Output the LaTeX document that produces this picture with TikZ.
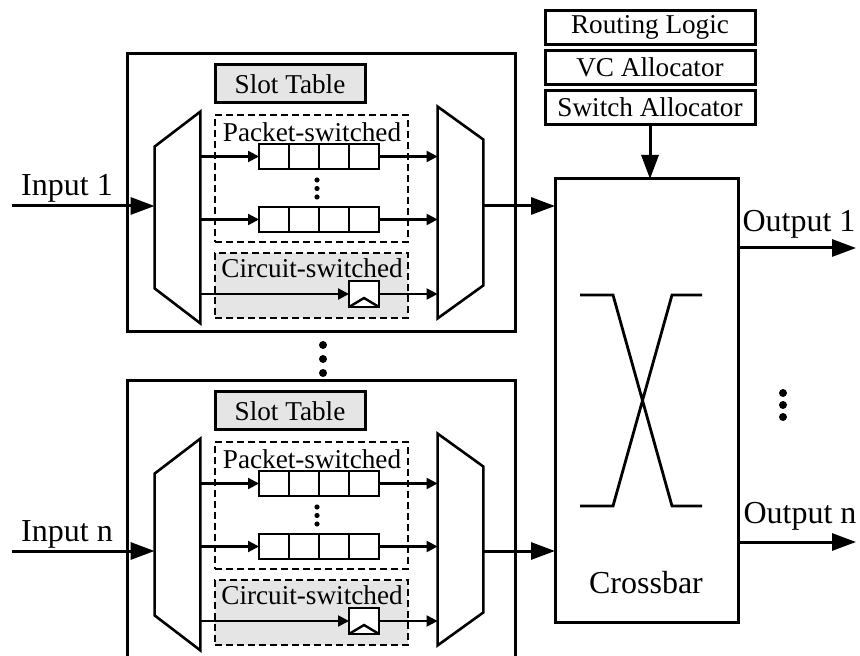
\documentclass[tikz,border=0pt]{standalone}
\usepackage{fontspec}
\setmainfont{Liberation Serif}
\usetikzlibrary{arrows.meta, positioning, calc}

\begin{document}
\begin{tikzpicture}[
  x=0.5pt, y=-0.5pt,
  txt/.style={font=\fontsize{13.6}{15}\selectfont, inner sep=0pt},
  lbl/.style={font=\fontsize{16}{18}\selectfont, inner sep=0pt, anchor=base},
  block/.style={draw, line width=1.5pt, inner sep=0pt, outer sep=0pt},
  box/.style={block, txt, minimum width=105pt, minimum height=17pt},
  slot/.style={block, txt, fill=black!10, minimum width=75pt, minimum height=19pt},
  group/.style={draw, line width=0.75pt, dash pattern=on 3.5pt off 2pt, minimum width=96.5pt, inner sep=0pt},
  cell/.style={draw, line width=1.2pt, minimum width=15pt, minimum height=12.5pt, inner sep=0pt, outer sep=0pt},
  trap/.style={line width=1.3pt, line join=miter},
  arrow/.style={-{Triangle[length=5.5pt, width=5.5pt]}, line width=1.1pt},
  bigarrow/.style={-{Triangle[length=12pt, width=8.5pt]}, line width=1.5pt},
  node distance=3pt
]
  \useasboundingbox (0,0) rectangle (860,656);
  \clip (0,0) rectangle (860,656);

  \node[box] (rl) at (650,27.5) {Routing Logic};
  \node[box, below=of rl] (vc) {VC Allocator};
  \node[box, below=of vc] (sa) {Switch Allocator};

  \node[block, minimum width=91.5pt, minimum height=221.5pt] (xbar) at (646.5,400.5) {};
  \node[lbl] (xlbl) at (646,593) {Crossbar};
  \draw[line width=1.4pt] (580,295) -- (613,295) -- (672,506) -- (702,506)
                          (580,506) -- (613,506) -- (672,295) -- (702,295);
  \draw[bigarrow] (sa) -- (sa |- xbar.north);

  \coordinate (o1) at (856,248);
  \coordinate (on) at (856,542);
  \draw[bigarrow] (o1 -| xbar.east) -- (o1);
  \draw[bigarrow] (on -| xbar.east) -- (on);
  \node[lbl] (lo1) at (799,232) {Output 1};
  \node[lbl] (lon) at (800,523) {Output n};
  \foreach \y in {393,405,417} \fill (783,\y) circle[radius=2pt];

  \foreach \y in {345,359,373} \fill (323,\y) circle[radius=2pt];

  \foreach \n/\dy/\ay in {1/0/206, n/327/224} {
    \begin{scope}[shift={(0,\dy)}]
      \node[block, minimum width=194pt, minimum height=139pt] (blk\n) at (321,193) {};
      \node[slot] (st\n) at (290,84) {Slot Table};
      \node[group, minimum height=63.5pt] (ps\n) at (311.5,178.5) {};
      \node[txt] (psl\n) at (312,132) {Packet-switched};
      \node[group, fill=black!10, minimum height=32.5pt] (cs\n) at (311.5,285.5) {};
      \node[txt] (csl\n) at (312,268) {Circuit-switched};

      \node[minimum width=22.5pt, minimum height=105.5pt] (dmx\n) at (177.5,217.5) {};
      \node[minimum width=22.5pt, minimum height=105.5pt] (mux\n) at (460.5,212.5) {};
      \draw[trap] ($(dmx\n.north west)+(0,35)$) -- (dmx\n.north east) -- (dmx\n.south east)
                  -- ($(dmx\n.south west)+(0,-35)$) -- cycle;
      \draw[trap] (mux\n.north west) -- ($(mux\n.north east)+(0,33)$)
                  -- ($(mux\n.south east)+(0,-33)$) -- (mux\n.south west) -- cycle;

      \foreach \k/\x in {1/274,2/304,3/334,4/364} {
        \node[cell] (qa\n\k) at (\x,156.5) {};
        \node[cell] (qb\n\k) at (\x,219.5) {};
      }
      \foreach \y in {180,188.5,197} \fill (317,\y) circle[radius=1.3pt];
      \node[cell, fill=white, minimum height=13pt] (ff\n) at (364,294) {};
      \draw[line width=1.2pt] (ff\n.south west) -- ($(ff\n.south)+(0,-9)$) -- (ff\n.south east);

      \draw[arrow] (dmx\n.east |- qa\n1) -- (qa\n1.west);
      \draw[arrow] (qa\n4.east) -- (qa\n4 -| mux\n.west);
      \draw[arrow] (dmx\n.east |- qb\n1) -- (qb\n1.west);
      \draw[arrow] (qb\n4.east) -- (qb\n4 -| mux\n.west);
      \draw[arrow] (dmx\n.east |- ff\n) -- (ff\n.west);
      \draw[arrow] (ff\n.east) -- (ff\n -| mux\n.west);

      \coordinate (in\n) at (12,\ay);
      \node[lbl] (lin\n) at (67,\ay-10) {Input \n};
      \draw[bigarrow] (in\n) -- (in\n -| dmx\n.west);
      \draw[bigarrow] (mux\n.east |- in\n) -- (in\n -| xbar.west);
    \end{scope}
  }
\end{tikzpicture}
\end{document}
